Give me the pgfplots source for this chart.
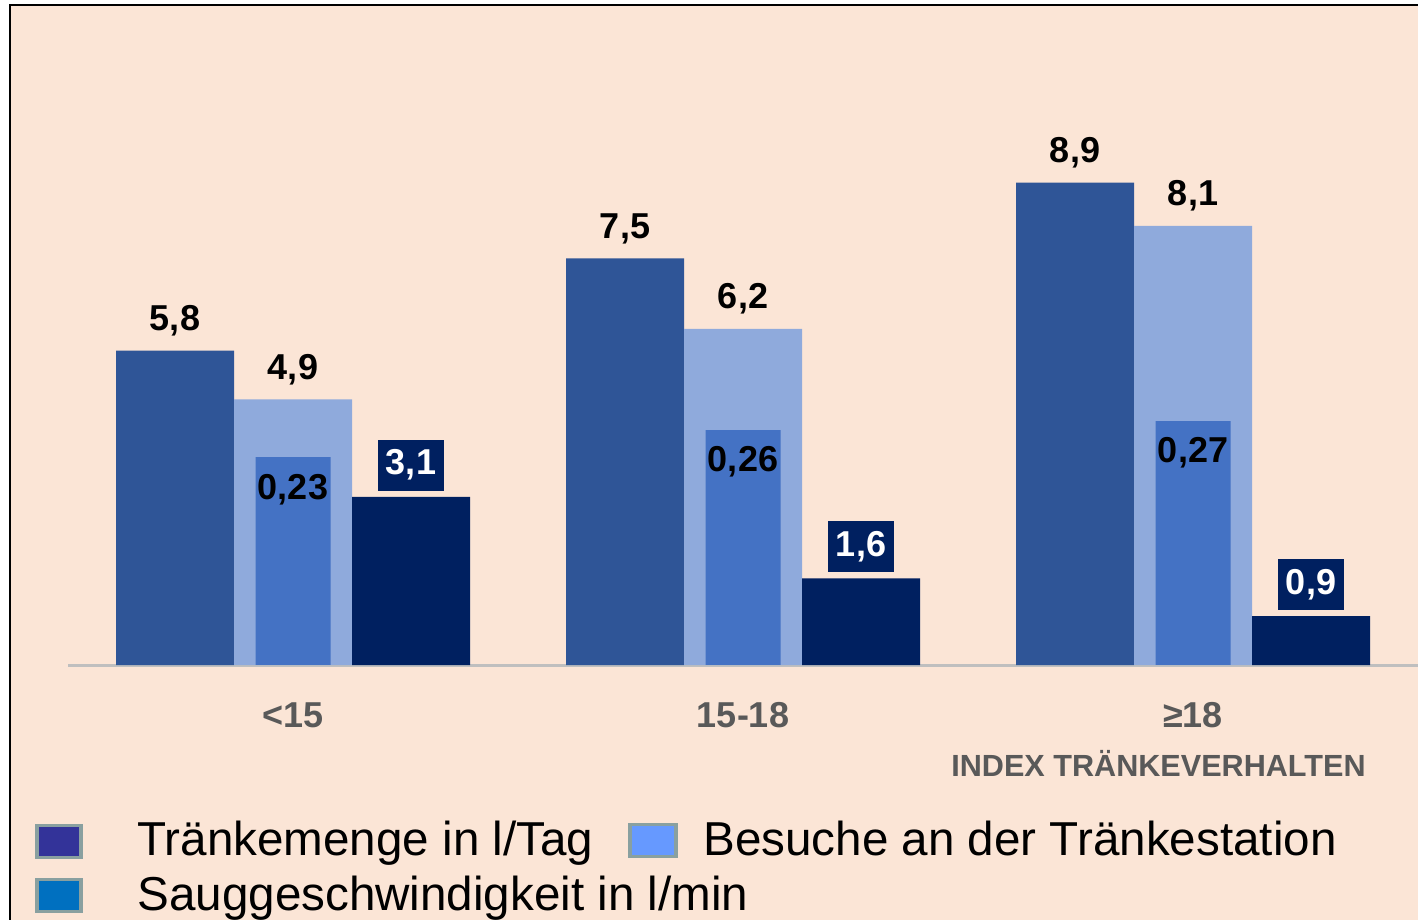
\documentclass[border=0pt]{standalone}
\usepackage{pgfplots}
\pgfplotsset{compat=1.18}
\usepackage{fontspec}
\setmainfont{Liberation Sans}
\definecolor{bg}{HTML}{FBE5D6}
\definecolor{cdark}{HTML}{2F5597}
\definecolor{clight}{HTML}{8FAADC}
\definecolor{cmed}{HTML}{4472C4}
\definecolor{cnavy}{HTML}{002060}
\definecolor{tgray}{HTML}{595959}
\definecolor{agray}{HTML}{BFBFBF}
\definecolor{lg1}{HTML}{333399}
\definecolor{lg2}{HTML}{6699FF}
\definecolor{lg3}{HTML}{0070C0}
\definecolor{lgb}{HTML}{89A0A0}
\pgfplotsset{/pgf/number format/.cd, use comma, assume math mode=true}
\begin{document}
\begin{tikzpicture}
\fill[white] (-34pt,-127.5pt) rectangle (675pt,332.5pt);
\fill[bg] (-29pt,-127.5pt) rectangle (675pt,330pt);
\draw[black, line width=0.9pt] (-29pt,-127.5pt) -- (-29pt,330pt) -- (675pt,330pt);
\begin{axis}[
  at={(0,0)}, anchor=south west,
  width=675pt, height=325.2pt, scale only axis,
  xmin=-0.5, xmax=2.5, ymin=0, ymax=12,
  axis x line=bottom, axis y line=none,
  x axis line style={draw=agray, line width=1.5pt, -},
  ytick=\empty,
  xtick={0,1,2}, xticklabels={<15,15-18,≥18},
  major tick length=0pt,
  xticklabel style={anchor=base, yshift=-31pt, text=tgray, font=\fontsize{18}{20}\selectfont\bfseries},
  xlabel={INDEX TRÄNKEVERHALTEN},
  xlabel style={at={(axis description cs:0.9615,0)}, anchor=base east, inner xsep=0pt, yshift=-55.8pt, text=tgray, font=\fontsize{15.3}{18}\selectfont\bfseries},
  nodes near coords,
  clip=false,
]
\addplot[ybar, bar width=59pt, bar shift=-59pt, fill=cdark, draw=none,
  nodes near coords style={anchor=center, xshift=-59pt, yshift=15pt, font=\fontsize{18}{20}\selectfont\bfseries}]
  coordinates {(0,5.8) (1,7.5) (2,8.9)};
\addplot[ybar, bar width=59pt, bar shift=0pt, fill=clight, draw=none,
  nodes near coords style={anchor=center, yshift=15pt, font=\fontsize{18}{20}\selectfont\bfseries}]
  coordinates {(0,4.9) (1,6.2) (2,8.1)};
\addplot[ybar, bar width=59pt, bar shift=59pt, fill=cnavy, draw=none,
  nodes near coords style={anchor=south, xshift=59pt, yshift=3pt, fill=cnavy, text=white, inner xsep=4pt, minimum height=25.5pt, font=\fontsize{18}{20}\selectfont\bfseries}]
  coordinates {(0,3.1) (1,1.6) (2,0.9)};
\end{axis}
\begin{axis}[
  at={(0,0)}, anchor=south west,
  width=675pt, height=325.2pt, scale only axis,
  xmin=-0.5, xmax=2.5, ymin=0, ymax=0.72,
  hide axis, clip=false,
  nodes near coords,
]
\addplot[ybar, bar width=37.5pt, bar shift=0pt, fill=cmed, draw=none,
  nodes near coords style={anchor=center, yshift=-16pt, font=\fontsize{18}{20}\selectfont\bfseries}]
  coordinates {(0,0.23) (1,0.26) (2,0.27)};
\end{axis}
% legend
\draw[lgb, line width=1.75pt, fill=lg1] (-15.6pt,-80.2pt) rectangle (6.6pt,-96.2pt);
\draw[lgb, line width=1.75pt, fill=lg2] (280.9pt,-79.7pt) rectangle (304.1pt,-95.7pt);
\draw[lgb, line width=1.75pt, fill=lg3] (-15.6pt,-107.3pt) rectangle (6.6pt,-123.2pt);
\node[anchor=base west, inner sep=0pt, font=\fontsize{23.8}{27}\selectfont] at (34.5pt,-95pt) {Tränkemenge in l/Tag};
\node[anchor=base west, inner sep=0pt, font=\fontsize{23.8}{27}\selectfont] at (317.5pt,-95pt) {Besuche an der Tränkestation};
\node[anchor=base west, inner sep=0pt, font=\fontsize{23.8}{27}\selectfont] at (34.5pt,-122.5pt) {Sauggeschwindigkeit in l/min};
\pgfresetboundingbox
\path (-34pt,-127.5pt) rectangle (675pt,332.5pt);
\end{tikzpicture}
\end{document}
